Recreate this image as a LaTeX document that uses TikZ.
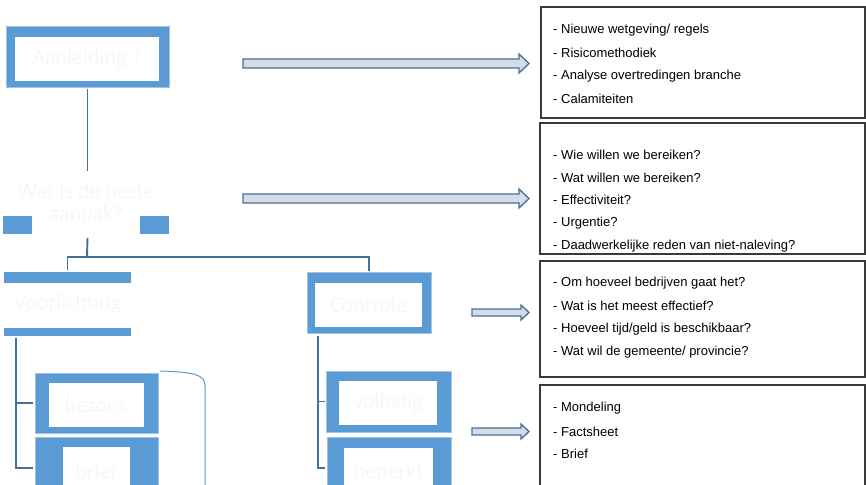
\documentclass[tikz,border=0pt]{standalone}
\usepackage{fontspec}
\usetikzlibrary{calc}
\setmainfont{Liberation Sans}
\newfontfamily\calib{Carlito}
\definecolor{blueF}{HTML}{5B9BD5}
\definecolor{blueL}{HTML}{9DC3E6}
\definecolor{lineB}{HTML}{41719C}
\definecolor{arrF}{HTML}{D6DCE5}
\definecolor{boxD}{HTML}{3A3A3A}
\definecolor{faint}{HTML}{F7F7F7}
\tikzset{
  outerbox/.style={fill=blueF, draw=blueL, line width=0.6pt, inner sep=0, outer sep=0, anchor=north west},
  innerbox/.style={fill=white, inner sep=0, outer sep=0, anchor=north west, text=faint, font=\calib\fontsize{22}{24}\selectfont},
  conn/.style={draw=lineB, line width=1.9pt},
  thinb/.style={draw=blueF, line width=1pt},
  blockarr/.style={fill=arrF, draw=lineB, line width=1.3pt, line join=miter},
  listbox/.style={draw=boxD, line width=1.2pt},
  item/.style={anchor=west, inner sep=0, font=\fontsize{13}{15}\selectfont},
}
\newcommand\barrow[6]{%
  \path[blockarr] (#1,#3-#4) -- (#2-#6,#3-#4) -- (#2-#6,#3-#5) -- (#2,#3) -- (#2-#6,#3+#5) -- (#2-#6,#3+#4) -- (#1,#3+#4) -- cycle;}
\begin{document}
\begin{tikzpicture}[x=1pt,y=-1pt]
\clip (0,0) rectangle (866,484);
\fill[white] (0,0) rectangle (866,484);

% Aanleiding
\node[outerbox, minimum width=163pt, minimum height=61pt] (aanl) at (6,26) {};
\node[innerbox, minimum width=144pt, minimum height=44pt] (aanlI) at (15,37) {Aanleiding ?};

% Wat is de beste aanpak?
\fill[blueF] (3,216) rectangle (32,234);
\fill[blueF] (140,216) rectangle (169,234);
\node[inner sep=0, outer sep=0, anchor=north west, minimum width=166pt, minimum height=65pt,
      text=faint, align=center, font=\calib\fontsize{22}{22}\selectfont] (aanpak) at (3,171) {Wat is de beste\\aanpak?};
\draw[conn] ($(aanl.south)+(0,2)$) -- (aanl.south |- aanpak.north);

% Voorlichting
\node[inner sep=0, outer sep=0, anchor=north west, minimum width=127pt, minimum height=64pt,
      text=faint, font=\calib\fontsize{22}{24}\selectfont] (voor) at (4,272) {Voorlichting};
\fill[blueF] (voor.north west) rectangle ++(127,11);
\fill[blueF] (voor.south west) rectangle ++(127,-8);

% Controle
\node[outerbox, minimum width=124pt, minimum height=61pt] (contr) at (307,272) {};
\node[innerbox, minimum width=107pt, minimum height=44pt] (contrI) at (315,283) {Controle};

\coordinate (j1) at (87,257);
\draw[conn] ($(aanl.south |- aanpak.south)+(0,2)$) -- (j1);
\coordinate (v0) at ($(voor.north)+(0,-2)$);
\draw[conn] (v0) -- (v0 |- j1) -- (contr.north |- j1) -- ($(contr.north)+(0,-1)$);

% Voorlichting children
\node[outerbox, minimum width=123pt, minimum height=60pt] (bez) at (35,373) {};
\node[innerbox, minimum width=95pt, minimum height=44pt] (bezI) at (49,383) {bezoek};
\node[outerbox, minimum width=123pt, minimum height=62pt] (brief) at (35,437) {};
\node[innerbox, minimum width=67pt, minimum height=50pt] (briefI) at (63,447) {brief};
\coordinate (vl) at (16,338);
\draw[conn] (vl) |- ($(bez.west)+(-2,0)$);
\draw[conn] (vl) |- ($(brief.west)+(-2,0)$);
\draw[thinb] ($(bez.north east)+(2,-2)$) .. controls (195,372) and (205,375) .. (205,386) -- (205,490);

% Controle children
\node[outerbox, minimum width=125pt, minimum height=61pt] (voll) at (326,371) {};
\node[innerbox, minimum width=98pt, minimum height=44pt] (vollI) at (339,381) {volledig};
\node[outerbox, minimum width=124pt, minimum height=62pt] (bep) at (327,437) {};
\node[innerbox, minimum width=89pt, minimum height=50pt] (bepI) at (344,448) {beperkt};
\coordinate (cl) at (318,336);
\draw[conn] (cl) |- ($(voll.west)+(-1,0)$);
\draw[conn] (cl) |- ($(bep.west)+(-2,0)$);

% block arrows
\barrow{243}{529}{63.5}{4.5}{9.5}{10}
\barrow{243}{529}{198.5}{4.5}{9.5}{10}
\barrow{472}{529}{312.5}{3.5}{7.5}{8}
\barrow{472}{529}{431.5}{3.5}{7.5}{8}

% list boxes
\draw[listbox] (541,7) rectangle (865,118);
\draw[listbox] (540,123) rectangle (865,254);
\draw[listbox] (540,261) rectangle (865,377);
\draw[listbox] (540,385) rectangle (865,495);

\node[item] (t11) at (553,30) {- Nieuwe wetgeving/ regels};
\node[item] (t12) at (553,53) {- Risicomethodiek};
\node[item] (t13) at (553,76) {- Analyse overtredingen branche};
\node[item] (t14) at (553,99) {- Calamiteiten};

\node[item] (t21) at (553,155) {- Wie willen we bereiken?};
\node[item] (t22) at (553,178) {- Wat willen we bereiken?};
\node[item] (t23) at (553,200) {- Effectiviteit?};
\node[item] (t24) at (553,223) {- Urgentie?};
\node[item] (t25) at (553,246) {- Daadwerkelijke reden van niet-naleving?};

\node[item] (t31) at (553,283) {- Om hoeveel bedrijven gaat het?};
\node[item] (t32) at (553,306) {- Wat is het meest effectief?};
\node[item] (t33) at (553,329) {- Hoeveel tijd/geld is beschikbaar?};
\node[item] (t34) at (553,352) {- Wat wil de gemeente/ provincie?};

\node[item] (t41) at (553,408) {- Mondeling};
\node[item] (t42) at (553,432) {- Factsheet};
\node[item] (t43) at (553,454) {- Brief};
\end{tikzpicture}
\end{document}
